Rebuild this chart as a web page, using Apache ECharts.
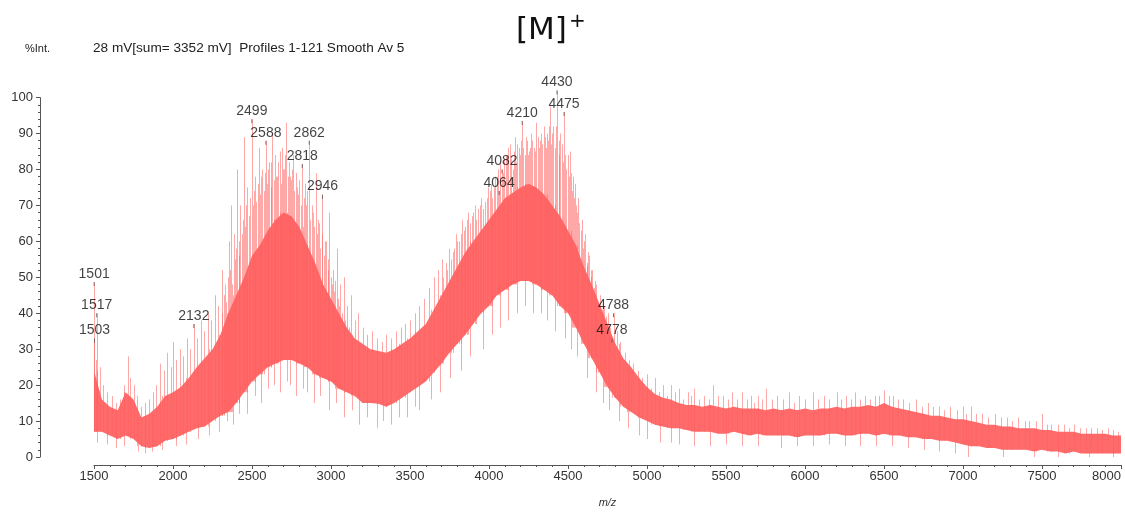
<!DOCTYPE html>
<html>
<head>
<meta charset="utf-8">
<script src="https://cdn.jsdelivr.net/npm/echarts@6/dist/echarts.min.js"></script>
<style>
  html, body { margin: 0; padding: 0; background: #fff; }
  #chart { width: 1125px; height: 513px; }
</style>
</head>
<body>
<div id="chart"></div>
<script>
// m/z grid of the noise envelope (step 50)
const envMz = [];
for (let m = 1500; m <= 8000; m += 50) envMz.push(m);

// upper edge of the dense trace, %Int.
const envHi = [
  24, 16, 14, 13, 18, 16, 11, 12, 14, 17,
  18, 19.5, 22, 25, 27.5, 30, 34, 40, 45, 50,
  56, 59, 63, 66, 68, 67, 64, 59, 54, 48,
  44, 40, 36, 33, 31.5, 30, 29.5, 29, 30, 31.5,
  33, 35, 37, 41, 45, 49, 53, 57, 60, 63,
  66, 69, 72, 73.5, 75, 76, 75, 73, 70, 67,
  63, 59, 53, 48, 42.5, 37, 31.5, 27.5, 25, 22,
  19.5, 17.5, 16.5, 16, 15, 14.5, 14.5, 14, 14.5, 14,
  13.5, 14, 13.5, 13.5, 13.5, 13, 13.5, 13, 13.5, 13,
  13.5, 13, 13.5, 13.5, 14, 13.5, 14, 14, 14.5, 14,
  15, 14, 13.5, 13, 12.5, 12, 11.5, 11.5, 11, 10.5,
  10.5, 10, 9.5, 9, 9, 8.5, 8.5, 8, 8, 8,
  7.5, 7.5, 7, 7, 7, 6.5, 6.5, 6.5, 6.5, 6,
  6
];

// lower edge of the dense trace, %Int.
const envLo = [
  7, 7, 6, 5, 6, 5, 3, 2.5, 3, 4.5,
  5, 6, 7, 8, 8.5, 10, 11.5, 12.5, 15, 18,
  21, 23, 25, 26, 27, 27, 26, 25, 23, 22,
  21, 19, 18, 17, 15, 15, 14.8, 14, 15, 16.5,
  18, 19.5, 21, 23.5, 26, 29, 31.5, 34, 37, 40,
  42, 45, 46.5, 48, 49, 49, 48, 46.5, 45, 42,
  40, 36, 31.5, 27.5, 23.5, 19.5, 16.5, 14, 12.5, 11,
  10, 9, 8.5, 8, 8, 7.5, 7, 7, 7, 6.5,
  6.5, 7, 6.5, 6, 6.5, 6, 6, 6, 6, 5.5,
  6, 6, 6, 6.5, 6.5, 6, 6, 6.5, 6.5, 6,
  6.5, 6, 6, 5.5, 5.5, 5, 5, 4.5, 4.5, 4,
  3.5, 3, 3, 2.5, 2.5, 2, 2, 2, 2, 1.5,
  2, 1.5, 1.5, 1, 1.5, 1, 1, 1, 1, 1,
  1
];

// individual peaks rising above the envelope: [m/z, %Int.]
const spikes = [
  [1501,48.7],[1503,33],[1510,27],[1517,40],[1536,25],[1560,20],[1585,18],[1615,17],[1640,15],[1665,16],
  [1690,20],[1713,28],[1730,22],[1755,20],[1775,17],[1800,14],[1825,15],[1850,16],[1875,18],[1895,20],
  [1915,26],[1940,24],[1960,29],[1985,25],[2000,32],[2022,27],[2044,30],[2066,28],[2088,33],[2110,30],
  [2132,37],[2154,33],[2176,38],[2198,35],[2220,40],[2242,38],[2264,45],[2286,42],[2308,52],[2330,48],
  [2352,60],[2367,70],[2383,62],[2405,80],[2427,70],[2449,89],[2470,75],[2499,94],[2520,78],[2544,86],
  [2565,80],[2588,88],[2610,82],[2629,90],[2650,78],[2675,85],[2695,80],[2718,93],[2740,78],[2760,84],
  [2785,75],[2818,81.5],[2835,76],[2862,88],[2880,70],[2903,79],[2925,65],[2946,73],[2968,60],[2990,68],
  [3012,52],[3035,58],[3057,48],[3080,50],[3100,42],[3125,45],[3150,38],[3170,40],[3200,36],[3230,34],
  [3260,35],[3290,33],[3320,32],[3350,34],[3380,33],[3410,35],[3440,36],[3470,37],[3500,38],[3530,40],
  [3560,42],[3590,44],[3620,47],[3650,50],[3675,52],[3700,55],[3725,54],[3745,58],[3770,57],[3790,62],
  [3810,60],[3830,66],[3850,64],[3870,68],[3890,67],[3910,70],[3930,69],[3950,72],[3975,71],[3995,75],
  [4020,72],[4040,78],[4064,74],[4082,80],[4105,84],[4131,87],[4150,80],[4163,89],[4188,86],[4210,93.5],
  [4225,84],[4240,88],[4255,85],[4268,90],[4285,86],[4300,93],[4322,88],[4345,92],[4365,90],[4384,97.5],
  [4408,92],[4430,102],[4452,90],[4475,96],[4497,84],[4510,85],[4530,78],[4545,76],[4565,72],[4590,66],
  [4610,62],[4635,56],[4655,52],[4680,48],[4700,45],[4725,42],[4750,40],[4778,33],[4788,40],[4810,35],
  [4830,32],[4860,29],[4885,27],[4910,26],[4940,24],[4970,22],[5000,23],[5050,22],[5100,20],[5150,20],
  [5200,19],[5260,18],[5300,19],[5360,17],[5420,20],[5480,17],[5540,18],[5600,18],[5660,17],[5700,17],
  [5750,19],[5820,17],[5900,18],[5960,17],[6050,18],[6120,17],[6200,18],[6260,17],[6315,18],[6380,17],
  [6440,17],[6500,18.5],[6560,17],[6620,16],[6700,16],[6780,15],[6850,14],[6920,14],[7000,14],[7050,14],
  [7120,12],[7200,12],[7280,11],[7350,11],[7420,10],[7500,12],[7560,9],[7640,9],[7700,9],[7780,8],
  [7850,8],[7920,8],[7980,7]
];

// smaller noise peaks between the main ones: [m/z, %Int.]
const noise = [
  [2311,40],[2322,45],[2338,43],[2345,50],[2360,52],[2373,48],[2390,55],[2396,58],[2415,60],[2420,56],
  [2436,62],[2442,66],[2458,64],[2463,70],[2478,67],[2486,72],[2507,70],[2513,74],[2528,71],[2535,76],
  [2552,73],[2558,78],[2573,74],[2580,79],[2596,76],[2603,80],[2618,75],[2622,82],[2638,77],[2645,84],
  [2660,78],[2667,82],[2683,76],[2689,86],[2704,80],[2710,84],[2726,78],[2733,82],[2748,77],[2753,80],
  [2768,74],[2776,79],[2793,73],[2800,77],[2811,70],[2826,72],[2843,70],[2850,74],[2870,66],[2888,68],
  [2895,64],[2910,62],[2918,66],[2933,58],[2940,62],[2955,56],[2960,60],[2978,52],[2984,55],[2998,50],
  [3005,48],[3020,46],[3027,49],[3045,44],[3050,42],[3068,40],[3090,38],[3112,36],[3135,34],
  [3712,50],[3735,52],[3757,55],[3780,58],[3800,60],[3820,62],[3840,63],[3860,66],[3880,65],[3900,68],
  [3920,66],[3940,70],[3960,69],[3985,72],[4005,74],[4012,76],[4030,75],[4050,78],[4058,80],[4072,82],
  [4090,79],[4097,83],[4115,84],[4122,86],[4140,83],[4157,85],[4172,82],[4180,87],[4196,84],[4203,88],
  [4218,86],[4232,89],[4248,84],[4262,86],[4275,88],[4292,85],[4307,89],[4315,86],[4330,90],[4338,87],
  [4352,89],[4358,86],[4372,88],[4378,92],[4393,87],[4400,90],[4415,86],[4422,92],[4440,88],[4445,84],
  [4460,87],[4467,82],[4482,84],[4490,80],[4504,78],[4518,79],[4525,74],[4538,72],[4552,70],[4558,68],
  [4572,65],[4580,63],[4597,58],[4603,60],[4620,54],[4628,57],[4643,50],[4648,52],[4665,47],[4672,49],
  [4690,43],[4710,40],[4718,41],[4735,37],[4742,39],[4760,34],[4768,36],[4798,30],[4820,28],[4845,26],
  [4875,24],[4900,22],
  [5025,19],[5075,18],[5125,17],[5175,18],[5225,16],[5280,17],[5330,16],[5390,16],[5450,17],[5510,16],
  [5570,16],[5630,16],[5680,15],[5730,16],[5790,16],[5860,16],[5930,15],[6000,16],[6080,16],[6150,16],
  [6230,16],[6290,16],[6350,16],[6410,16],[6470,17],[6530,17],[6590,16],[6660,15],[6740,14],[6810,14],
  [6880,13],[6960,13],[7020,12],[7080,12],[7160,11],[7240,11],[7310,10],[7390,10],[7460,10],[7530,9],
  [7600,9],[7670,8],[7740,8],[7810,8],[7880,7.5],[7950,7.5]
];

// downward excursions below the envelope: [m/z, %Int.]
const dips = [
  [1520,4],[1580,3.5],[1640,2.5],[1690,3],[1780,1.5],[1820,1],[1870,1.5],[1930,2],[2020,3],[2080,3.5],
  [2160,5],[2230,6],[2290,7],[2340,10],[2380,9],[2420,12],[2470,12],[2520,17],[2560,15],[2600,19],
  [2640,20],[2680,18],[2720,21],[2740,20],[2780,17],[2820,19],[2850,18],[2890,15],[2930,17],[2990,13],
  [3030,15],[3080,11],[3130,13],[3180,9],[3230,11],[3290,8],[3330,10],[3380,9],[3430,11],[3480,11],
  [3530,14],[3560,13],[3630,16],[3690,18],[3750,22],[3820,24],[3880,28],[3960,30],[4020,34],[4070,36],
  [4120,38],[4180,40],[4230,42],[4280,40],[4330,40],[4370,38],[4420,35],[4480,33],[4520,30],[4560,28],
  [4620,22],[4680,18],[4720,15],[4760,13],[4820,10],[4880,8],[4950,6],[5000,5],[5080,4],[5150,4],
  [5200,3.5],[5300,3],[5400,3],[5500,3.5],[5600,3],[5700,3],[5850,2.5],[5950,3],[6050,3],[6150,3.5],
  [6250,3],[6350,3],[6450,3],[6550,3],[6650,2.5],[6750,2],[6850,1.5],[6950,1],[7030,0],[7250,0],
  [7450,0],[7600,0],[7800,0],[7950,0]
];

// annotated peaks: m/z and %Int.
const peakMz  = [1501, 1517, 1503, 2132, 2499, 2588, 2862, 2818, 2946, 4082, 4064, 4210, 4430, 4475, 4788, 4778];
const peakInt = [48.7, 40, 33, 37, 94, 88, 88, 81.5, 73, 80, 74, 93.5, 102, 96, 40, 33];

// axis ticks
const xTicks = { min: 1500, max: 8000, step: 500 };
const yTicks = { min: 0, max: 100, step: 10 };

const TRACE = '#ff6a6a';
const SPIKE = 'rgba(255, 96, 96, 0.55)';
const FONT = '"Liberation Sans", Arial, sans-serif';

function envIndex(mz) {
  const i = Math.round((mz - envMz[0]) / 50);
  return Math.max(0, Math.min(envMz.length - 1, i));
}

// vertical stroke from a value up/down to the envelope edge
function stroke(api, mz, v, edge) {
  const a = api.coord([mz, v]);
  const b = api.coord([mz, edge]);
  const x = Math.round(a[0]) + 0.5;
  return { type: 'line', shape: { x1: x, y1: a[1], x2: x, y2: b[1] }, style: { stroke: SPIKE, lineWidth: 1 } };
}

const chart = echarts.init(document.getElementById('chart'), null, { renderer: 'canvas' });

chart.setOption({
  animation: false,
  backgroundColor: '#ffffff',
  grid: { left: 94, right: 4, top: 97.6, bottom: 46.4, containLabel: false },
  xAxis: {
    type: 'value',
    min: xTicks.min, max: xTicks.max, interval: xTicks.step,
    offset: 8,
    name: 'm/z', nameLocation: 'middle', nameGap: 32,
    nameTextStyle: { fontStyle: 'italic', fontSize: 11, color: '#333', fontFamily: FONT },
    axisLine: { show: true, onZero: false, lineStyle: { color: '#555', width: 1 } },
    axisTick: { show: true, length: 4, lineStyle: { color: '#555' } },
    minorTick: { show: true, splitNumber: 5, length: 2, lineStyle: { color: '#555' } },
    axisLabel: { fontSize: 13, color: '#333', margin: 5, fontFamily: FONT, alignMaxLabel: 'right', formatter: v => String(v) },
    splitLine: { show: false }
  },
  yAxis: {
    type: 'value',
    min: yTicks.min, max: yTicks.max, interval: yTicks.step,
    offset: 54,
    axisLine: { show: true, lineStyle: { color: '#555', width: 1 } },
    axisTick: { show: true, length: 4, lineStyle: { color: '#555' } },
    minorTick: { show: true, splitNumber: 5, length: 2, lineStyle: { color: '#555' } },
    axisLabel: { fontSize: 13, color: '#333', margin: 7, fontFamily: FONT, formatter: v => String(v) },
    splitLine: { show: false }
  },
  graphic: [
    { type: 'text', left: 25, top: 43, style: { text: '%Int.', fontSize: 11, fill: '#222', fontFamily: FONT } },
    { type: 'text', left: 93, top: 41, style: { text: '28 mV[sum= 3352 mV]  Profiles 1-121 Smooth Av 5', fontSize: 13.6, fill: '#222', fontFamily: FONT } },
    { type: 'text', left: 516, top: 12, style: {
        text: '{m|[M]}{p|+}',
        rich: {
          m: { fontSize: 31, fill: '#111', fontFamily: '"DejaVu Sans", sans-serif' },
          p: { fontSize: 20, fill: '#111', fontFamily: '"DejaVu Sans", sans-serif', verticalAlign: 'top', padding: [0, 0, 18, 2] }
        }
      } }
  ],
  series: [
    {
      // dense body of the trace between its lower and upper edges
      type: 'custom',
      silent: true,
      data: [0],
      renderItem: function (params, api) {
        const pts = [];
        for (let i = 0; i < envMz.length; i++) pts.push(api.coord([envMz[i], envHi[i]]));
        for (let i = envMz.length - 1; i >= 0; i--) pts.push(api.coord([envMz[i], envLo[i]]));
        return { type: 'polygon', shape: { points: pts }, style: { fill: TRACE } };
      },
      z: 2
    },
    {
      type: 'custom', silent: true, data: spikes, z: 3,
      renderItem: (params, api) => stroke(api, api.value(0), api.value(1), envLo[envIndex(api.value(0))])
    },
    {
      type: 'custom', silent: true, data: noise, z: 3,
      renderItem: (params, api) => stroke(api, api.value(0), api.value(1), envLo[envIndex(api.value(0))])
    },
    {
      type: 'custom', silent: true, data: dips, z: 3,
      renderItem: (params, api) => stroke(api, api.value(0), api.value(1), envHi[envIndex(api.value(0))])
    },
    {
      // peak annotations
      type: 'scatter',
      silent: true,
      clip: false,
      symbol: 'rect',
      symbolSize: [1, 4],
      symbolOffset: [0, 2],
      itemStyle: { color: '#555' },
      data: peakMz.map((m, i) => [m, peakInt[i]]),
      label: {
        show: true,
        position: 'top',
        distance: 1,
        fontSize: 14,
        color: '#111',
        fontFamily: FONT,
        formatter: p => String(p.value[0])
      },
      labelLayout: { hideOverlap: false },
      z: 5
    }
  ]
});
</script>
</body>
</html>
